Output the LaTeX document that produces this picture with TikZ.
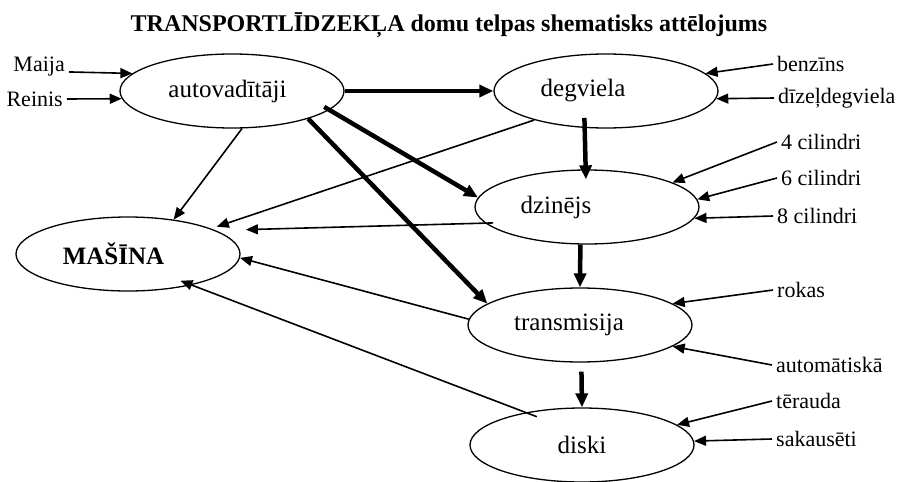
\documentclass[tikz,border=0pt]{standalone}
\usepackage{fontspec}
\setmainfont{Liberation Serif}
\usetikzlibrary{arrows.meta,positioning,shapes.geometric}

\begin{document}
\begin{tikzpicture}[x=1pt,y=-1pt,node distance=2cm,on grid,
    oval/.style={ellipse,draw,line width=1.3pt,minimum width=224pt,minimum height=74pt,inner sep=0pt,font=\fontsize{25}{28}\selectfont},
    lbl/.style={inner sep=4pt,font=\fontsize{22}{24}\selectfont},
    heavy/.style={-{Triangle[length=14pt,width=12pt]},line width=4.5pt},
    light/.style={-{Triangle[length=12pt,width=10pt]},line width=1.6pt}]
    \useasboundingbox (0,0) rectangle (898,482);
    \node[font=\fontsize{24}{28}\selectfont\bfseries] (title) at (449,25) {TRANSPORTLĪDZEKĻA domu telpas shematisks attēlojums};
    \node[oval] (autovad)                                       at (232,91) {autovadītāji\hspace*{9pt}};
    \node[oval] (degviela) [right=374pt of autovad]             {degviela\hspace*{46pt}};
    \node[oval] (dzinejs)  [below left=116pt and 19pt of degviela] {dzinējs\hspace*{62pt}};
    \node[oval] (transm)   [below left=118pt and 7pt of dzinejs]   {transmisija\hspace*{22pt}};
    \node[oval] (diski)    [below right=120pt and 2pt of transm]   {diski};
    \node[oval,font=\fontsize{25}{28}\selectfont\bfseries] (masina) [below left=163pt and 104pt of autovad] {MAŠĪNA\hspace*{29pt}};
    % ievades
    \node[lbl,anchor=east] (maija)   at (69,67)   {Maija};
    \node[lbl,anchor=east] (reinis)  at (67,99)   {Reinis};
    \node[lbl,anchor=west] (benzins) at (773,64)  {benzīns};
    \node[lbl,anchor=west] (dizel)   at (774,98)  {dīzeļdegviela};
    \node[lbl,anchor=west] (cil4)    at (777,142) {4 cilindri};
    \node[lbl,anchor=west] (cil6)    at (777,178) {6 cilindri};
    \node[lbl,anchor=west] (cil8)    at (773,216) {8 cilindri};
    \node[lbl,anchor=west] (rokas)   at (773,290) {rokas};
    \node[lbl,anchor=west] (autom)   at (772,365) {automātiskā};
    \node[lbl,anchor=west] (terauda) at (772,401) {tērauda};
    \node[lbl,anchor=west] (sakaus)  at (772,439) {sakausēti};
    \path[heavy]
    (autovad)      edge (degviela)
    (autovad.349)  edge [shorten <=-6pt] (dzinejs.175)
    (autovad.340)  edge (transm.167)
    (degviela.240) edge [shorten <=-10pt,shorten >=-10pt] (dzinejs.92)
    (dzinejs.260)  edge (transm.90)
    (transm.272)   edge [shorten <=9pt] (diski.90);
    \path[light]
    (autovad.285)  edge (masina.37)
    (degviela.202) edge [shorten >=6pt] (masina.17)
    (dzinejs.189)  edge [shorten <=-8pt,shorten >=30pt] (masina.15)
    (transm.177)   edge (masina.358)
    (diski.150)    edge [shorten <=-12pt,shorten >=-12pt] (masina.334)
    (maija.base east) edge (autovad.170)
    (reinis.east)  edge (autovad.184)
    (benzins.west) edge (degviela.10)
    (dizel.west)   edge (degviela.356)
    (cil4.west)    edge (dzinejs.16)
    (cil6.west)    edge (dzinejs.4)
    (cil8.west)    edge (dzinejs.354)
    (rokas.west)   edge (transm.13)
    (autom.west)   edge (transm.347)
    (terauda.west) edge (diski.12)
    (sakaus.west)  edge (diski.2);
\end{tikzpicture}
\end{document}
